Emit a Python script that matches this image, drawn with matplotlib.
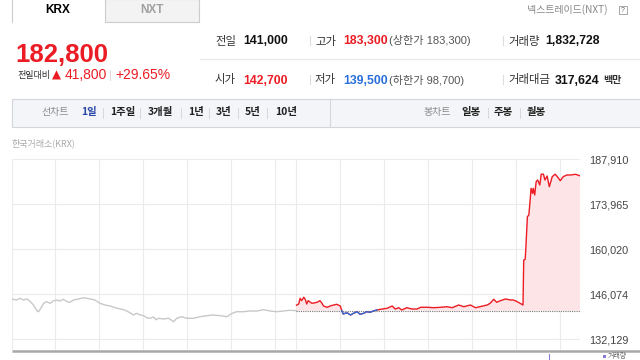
import numpy as np
import matplotlib
matplotlib.use('Agg')
import matplotlib.pyplot as plt
from matplotlib.patches import Rectangle

KR = ['Noto Sans CJK KR', 'DejaVu Sans']
NUM = ['Liberation Sans', 'Noto Sans CJK KR', 'DejaVu Sans']
plt.rcParams['font.family'] = KR

# --- data -------------------------------------------------------------
prev_close = 141000
price_ticks = [132129, 146074, 160020, 173965, 187910]
hour_marks = [0, 60, 120, 180, 240, 300, 360, 390, 450, 510, 570, 630, 690, 750]

# previous session (minutes from 09:00)
prev_t = [0, 7, 12, 16, 21, 25, 30, 35, 37, 40, 44, 48, 53, 57, 62, 66, 71, 76,
          80, 85, 92, 98, 103, 108, 114, 121, 128, 135, 142, 149, 155, 162, 167,
          171, 176, 181, 185, 190, 194, 198, 201, 208, 215, 222, 226, 233, 240,
          249, 258, 267, 276, 286, 295, 302, 308, 317, 327, 336, 345, 354, 363,
          372, 381, 390]
prev_v = [144620, 144310, 144840, 144310, 144620, 144000, 142760, 140900, 140680,
          141740, 143290, 143780, 143290, 144000, 144310, 144000, 144530, 143780,
          143600, 144310, 144620, 145020, 144840, 144620, 144310, 143290, 142760,
          142450, 141920, 141520, 141210, 140370, 139660, 140190, 139700, 139440,
          138820, 138640, 139040, 138200, 138640, 138420, 138640, 137580, 138640,
          139130, 138640, 138640, 139130, 139440, 139660, 139440, 139130, 140190,
          140680, 140680, 140900, 140900, 141300, 140900, 140680, 140900, 141120,
          141000]

# today's session
today_t = [390, 393, 395, 397, 400, 402, 404, 406, 411, 416, 420, 422, 425, 427,
           432, 436, 441, 445, 450, 452, 454, 459, 464, 468, 473, 477, 482, 486,
           491, 495, 500, 505, 514, 521, 525, 530, 534, 541, 548, 555, 560, 569,
           578, 587, 596, 603, 612, 619, 628, 635, 641, 651, 655, 660, 664, 669,
           676, 683, 687, 692, 696, 700, 701, 703, 704, 706, 708, 710, 711, 713,
           714, 716, 718, 720, 723, 725, 728, 730, 733, 736, 740, 744, 747, 751,
           755, 760, 765, 772, 778]
today_v = [142700, 143070, 144830, 144100, 145150, 144520, 143070, 144100, 143290,
           143470, 143780, 144100, 143290, 142450, 142050, 142450, 142760, 142980,
           142450, 141000, 139970, 140370, 139660, 140190, 140680, 139880, 140190,
           140680, 140500, 140900, 141210, 141430, 141740, 142450, 141520, 141920,
           141210, 141920, 141520, 141520, 142050, 142050, 141920, 142050, 142230,
           141920, 142760, 142230, 142760, 141920, 142230, 142760, 143290, 144530,
           143600, 144090, 144620, 144310, 144310, 143780, 143290, 142760, 156700,
           156920, 160830, 170120, 170650, 175830, 178920, 177370, 178920, 176850,
           180970, 181500, 179950, 183300, 183300, 181500, 182740, 179420, 182520,
           183300, 182520, 181280, 182520, 183050, 183050, 183260, 182800]

RED = '#ec1c24'
BLUE = '#2a6fdb'
GRAY_TXT = '#888888'

fig = plt.figure(figsize=(6.4, 3.6), dpi=100)

# pixel-space background axes for the header widgets
bg = fig.add_axes([0, 0, 1, 1])
bg.set_xlim(0, 640)
bg.set_ylim(360, 0)
bg.axis('off')

# tabs
bg.add_patch(Rectangle((105, -1), 94, 22.7, fc='#f3f3f3', ec='#cccccc', lw=0.8))
bg.plot([12, 12], [-1, 21.7], color='#cccccc', lw=0.8)
bg.text(58, 10, 'KRX', ha='center', va='center', fontsize=8.5, fontweight='bold', family=NUM)
bg.text(152, 10, 'NXT', ha='center', va='center', fontsize=8.5, fontweight='bold',
        color='#a0a0a0', family=NUM)
bg.text(527, 10, '넥스트레이드(NXT)', va='center', fontsize=7.2, color=GRAY_TXT)
bg.add_patch(Rectangle((619, 6), 8, 8, fc='white', ec='#999999', lw=0.6))
bg.text(623, 10.3, '?', ha='center', va='center', fontsize=5, color='#666666', family=NUM)

# current price block
bg.text(15, 62, '182,800', va='baseline', fontsize=18.5, fontweight='bold', color=RED, family=NUM)
bg.text(17, 78, '전일대비', va='baseline', fontsize=6.5, color='#333333')
bg.text(52, 79, '▲', va='baseline', fontsize=8.5, color=RED, family=['DejaVu Sans'])
bg.text(65, 79, '41,800', va='baseline', fontsize=10, color=RED, family=NUM)
bg.plot([110, 110], [70, 80], color='#dddddd', lw=0.8)
bg.text(115, 79, '+29.65%', va='baseline', fontsize=10, color=RED, family=NUM)

# quote table
bg.plot([200, 640], [59.3, 59.3], color='#e8e8e8', lw=0.8)
for yb in (44.5, 83.5):
    bg.plot([310, 310], [yb - 9, yb], color='#dddddd', lw=0.8)
    bg.plot([503, 503], [yb - 9, yb], color='#dddddd', lw=0.8)

rows = [
    (44.5, [('전일', 215, '#333333', 'normal', 8.2, KR), ('141,000', 243, '#111111', 'bold', 8.8, NUM),
            ('고가', 315, '#333333', 'normal', 8.2, KR), ('183,300', 343, RED, 'bold', 8.8, NUM),
            ('(상한가 183,300)', 389, '#555555', 'normal', 8, NUM),
            ('거래량', 508, '#333333', 'normal', 8.2, KR), ('1,832,728', 545, '#111111', 'bold', 8.8, NUM)]),
    (83.5, [('시가', 215, '#333333', 'normal', 8.2, KR), ('142,700', 243, RED, 'bold', 8.8, NUM),
            ('저가', 315, '#333333', 'normal', 8.2, KR), ('139,500', 343, BLUE, 'bold', 8.8, NUM),
            ('(하한가 98,700)', 389, '#555555', 'normal', 8, NUM),
            ('거래대금', 508, '#333333', 'normal', 8.2, KR), ('317,624', 555, '#111111', 'bold', 8.8, NUM),
            ('백만', 603, '#333333', 'bold', 7.2, KR)]),
]
for yb, items in rows:
    for s, x, c, w, fs, fam in items:
        bg.text(x, yb, s, va='baseline', fontsize=fs, color=c, fontweight=w, family=fam)

# toolbar
bg.add_patch(Rectangle((12, 98.5), 640, 28, fc='#f4f5f9', ec='#d3d6dd', lw=0.8))
bg.plot([330, 330], [98.5, 126.5], color='#d3d6dd', lw=0.8)
ty = 112.5
bg.text(41, ty, '선차트', va='center', fontsize=7.2, color='#8a8a8a')
bg.text(81, ty, '1일', va='center', fontsize=7.5, color='#2948a8', fontweight='bold')
left_items = [('1주일', 110), ('3개월', 148), ('1년', 188), ('3년', 216), ('5년', 245), ('10년', 275)]
for s, x in left_items:
    bg.text(x, ty, s, va='center', fontsize=7.5, color='#222222', fontweight='bold')
for x in (103, 140, 181, 209, 238, 267):
    bg.plot([x, x], [ty - 5, ty + 5], color='#d8d8d8', lw=0.7)
bg.text(423, ty, '봉차트', va='center', fontsize=7.2, color='#8a8a8a')
for s, x in [('일봉', 461), ('주봉', 494), ('월봉', 527)]:
    bg.text(x, ty, s, va='center', fontsize=7.5, color='#222222', fontweight='bold')
for x in (488, 520):
    bg.plot([x, x], [ty - 5, ty + 5], color='#d8d8d8', lw=0.7)

bg.text(12, 143, '한국거래소(KRX)', va='center', fontsize=6.5, color='#aaaaaa')

# chart
ax = fig.add_axes([11.5 / 640, (360 - 349.5) / 360, (580 - 11.5) / 640, (349.5 - 159.3) / 360])
ax.set_xlim(0, 778)
ax.set_ylim(128968, 187910)
ax.set_xticks(hour_marks)
ax.set_yticks(price_ticks)
ax.yaxis.tick_right()
ax.set_yticklabels([f'{v:,}' for v in price_ticks], fontsize=7.8, color='#444444', family=NUM)
ax.tick_params(length=0, pad=6.5, labelbottom=False)
ax.grid(color='#ebebeb', lw=0.8)
ax.set_axisbelow(True)
for s in ax.spines.values():
    s.set_visible(False)
ax.patch.set_alpha(0)

tt = np.array(today_t)
tv = np.array(today_v)
ax.fill_between(tt, tv, prev_close, where=tv >= prev_close, interpolate=True,
                color='#fde4e6', lw=0)
ax.plot(prev_t, prev_v, color='#c8c8c8', lw=1.0)
ax.plot([tt[0], tt[-1]], [prev_close, prev_close], color='#777777', lw=0.8, ls=(0, (1, 1)))
ax.plot(tt, tv, color=RED, lw=1.0)
below = tv <= prev_close
below[1:] |= below[:-1].copy()
ax.plot(tt, np.where(below, tv, np.nan), color=BLUE, lw=1.0)

# bottom axis bar and volume legend stub
bg.plot([11.5, 640], [350.5, 350.5], color='#a8a8a8', lw=1.8, solid_capstyle='butt')
bg.plot([549, 549], [354, 360], color='#8c7bd6', lw=0.8)
bg.add_patch(Rectangle((603, 354.5), 3, 3, fc='#8c7bd6', lw=0))
bg.text(608, 356, '거래량', va='center', fontsize=5, color='#666666')

fig.savefig('out.png', dpi=100)
